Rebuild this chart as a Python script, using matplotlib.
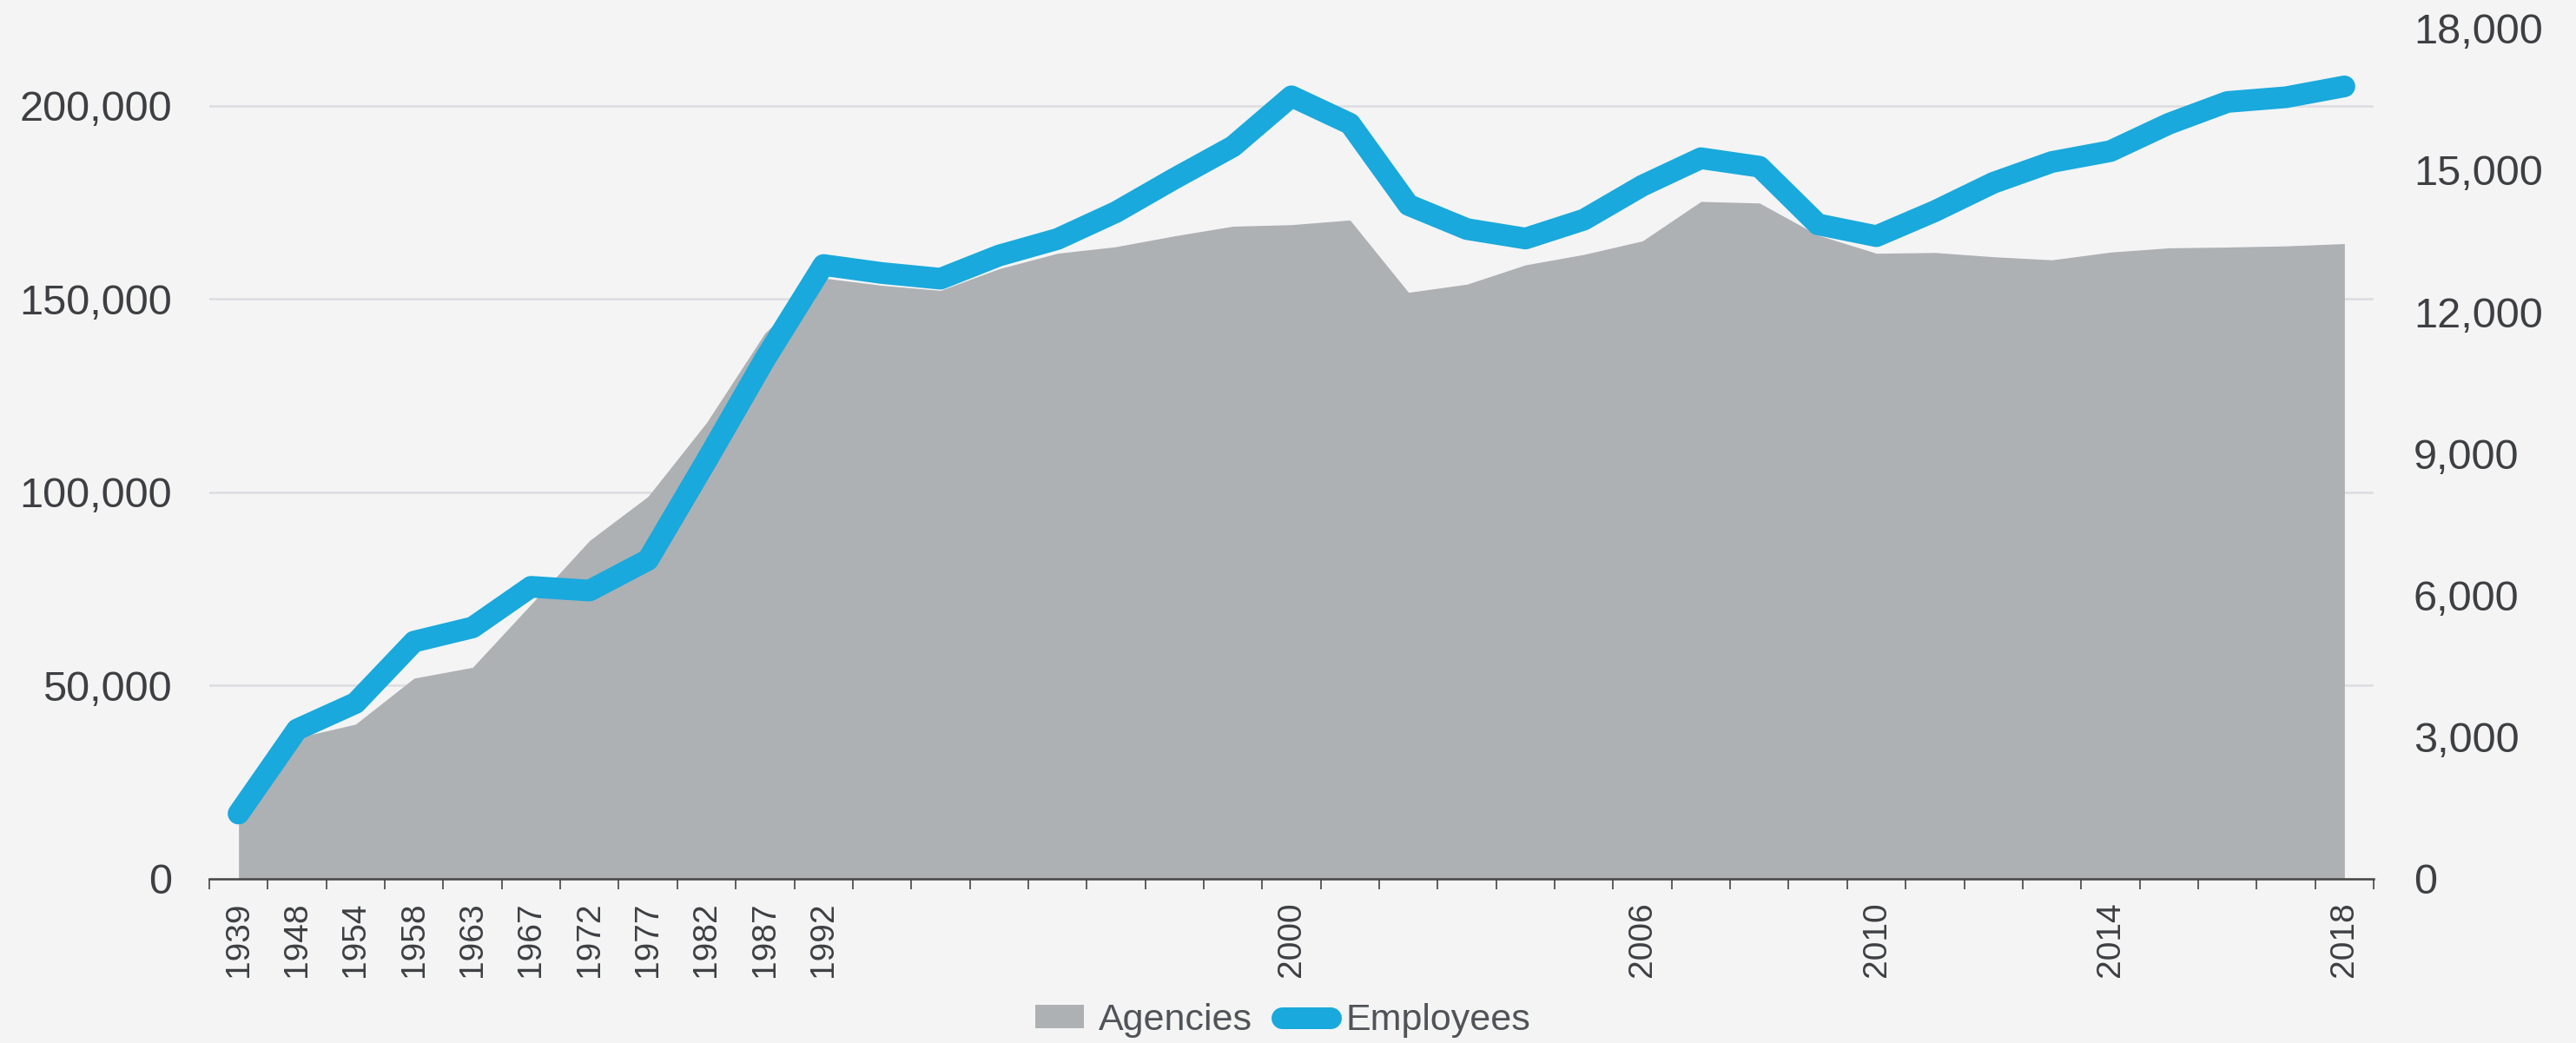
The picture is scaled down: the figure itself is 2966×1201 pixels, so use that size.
import numpy as np
import matplotlib.pyplot as plt
from matplotlib.patches import Patch
from matplotlib.lines import Line2D

# Category labels (irregular before 1992, yearly afterwards)
years = ['1939', '1948', '1954', '1958', '1963', '1967', '1972', '1977', '1982', '1987',
         '1992', '1993', '1994', '1995', '1996', '1997', '1998', '1999', '2000', '2001',
         '2002', '2003', '2004', '2005', '2006', '2007', '2008', '2009', '2010', '2011',
         '2012', '2013', '2014', '2015', '2016', '2017', '2018']
shown_years = ['1939', '1948', '1954', '1958', '1963', '1967', '1972', '1977', '1982', '1987',
               '1992', '2000', '2006', '2010', '2014', '2018']

# Agencies (left axis, area)
agencies = [14000, 36500, 40000, 51900, 54700, 71000, 87500, 98900, 118000, 141200,
            155400, 153500, 152200, 157800, 161800, 163500, 166300, 168800, 169200, 170400,
            151700, 153800, 158800, 161500, 165000, 175200, 174800, 166500, 161800, 162000,
            160900, 160100, 162100, 163200, 163400, 163700, 164300]

# Employees (right axis, line)
employees = [1380, 3160, 3720, 5020, 5320, 6180, 6100, 6750, 8850, 11000,
             12990, 12820, 12700, 13190, 13540, 14110, 14820, 15500, 16560, 15980,
             14260, 13750, 13550, 13950, 14670, 15250, 15070, 13850, 13600, 14130,
             14730, 15170, 15400, 15980, 16440, 16540, 16770]

left_ticks = [0, 50000, 100000, 150000, 200000]
right_ticks = [0, 3000, 6000, 9000, 12000, 15000, 18000]

AREA_COLOR = '#adb1b4'
LINE_COLOR = '#19a9dc'
TEXT_COLOR = '#3d3f42'

plt.rcParams['font.family'] = ['Liberation Sans', 'DejaVu Sans']

fig = plt.figure(figsize=(29.66, 12.01), dpi=100)
fig.patch.set_facecolor('#f4f4f5')

ax = fig.add_axes([0.08125, 0.1574, 0.8402, 0.8155])
ax.set_facecolor('none')
x = np.arange(len(years))

ax.fill_between(x, agencies, 0, color=AREA_COLOR, linewidth=0, zorder=2)
ax.set_xlim(-0.5, len(years) - 0.5)
ax.set_ylim(0, 220000)

# y grid on left axis ticks
for v in left_ticks[1:]:
    ax.axhline(v, color='#dfdfe2', linewidth=2, zorder=1)

ax.set_yticks(left_ticks)
ax.set_yticklabels([f'{v:,}' for v in left_ticks])
ax.tick_params(axis='y', length=0, pad=31, labelsize=35, labelcolor=TEXT_COLOR)

# tick marks at category boundaries, labels at category centres
ax.set_xticks(np.arange(-0.5, len(years), 1))
ax.set_xticklabels([])
ax.tick_params(axis='x', which='major', length=8.5, width=1.2, color='#444444', direction='out')
ax.set_xticks(x, minor=True)
ax.set_xticklabels([y if y in shown_years else '' for y in years], minor=True,
                   rotation=90, fontsize=28, color=TEXT_COLOR)
ax.tick_params(axis='x', which='minor', length=0, pad=19)

for side in ['top', 'right', 'left']:
    ax.spines[side].set_visible(False)
ax.spines['bottom'].set_color('#444444')
ax.spines['bottom'].set_linewidth(1.8)
ax.spines['bottom'].set_zorder(5)

ax2 = ax.twinx()
ax2.plot(x, employees, color=LINE_COLOR, linewidth=18, solid_capstyle='round',
         solid_joinstyle='round', zorder=3)
ax2.set_ylim(0, 18000)
ax2.set_yticks(right_ticks)
ax2.set_yticklabels([f'{v:,}' for v in right_ticks])
ax2.tick_params(axis='y', length=0, pad=33, labelsize=35, labelcolor=TEXT_COLOR)
for side in ['top', 'right', 'left', 'bottom']:
    ax2.spines[side].set_visible(False)

handles = [Patch(facecolor=AREA_COLOR, edgecolor='none'),
           Line2D([0], [0], color=LINE_COLOR, linewidth=18, solid_capstyle='round')]
fig.legend(handles, ['Agencies', 'Employees'], loc='center', bbox_to_anchor=(0.498, 0.0217),
           ncol=2, frameon=False, fontsize=31, labelcolor='#505357',
           handlelength=1.3, handleheight=0.6, handletextpad=0.4, columnspacing=0.8)

fig.savefig('out.png', dpi=100, facecolor=fig.get_facecolor())
